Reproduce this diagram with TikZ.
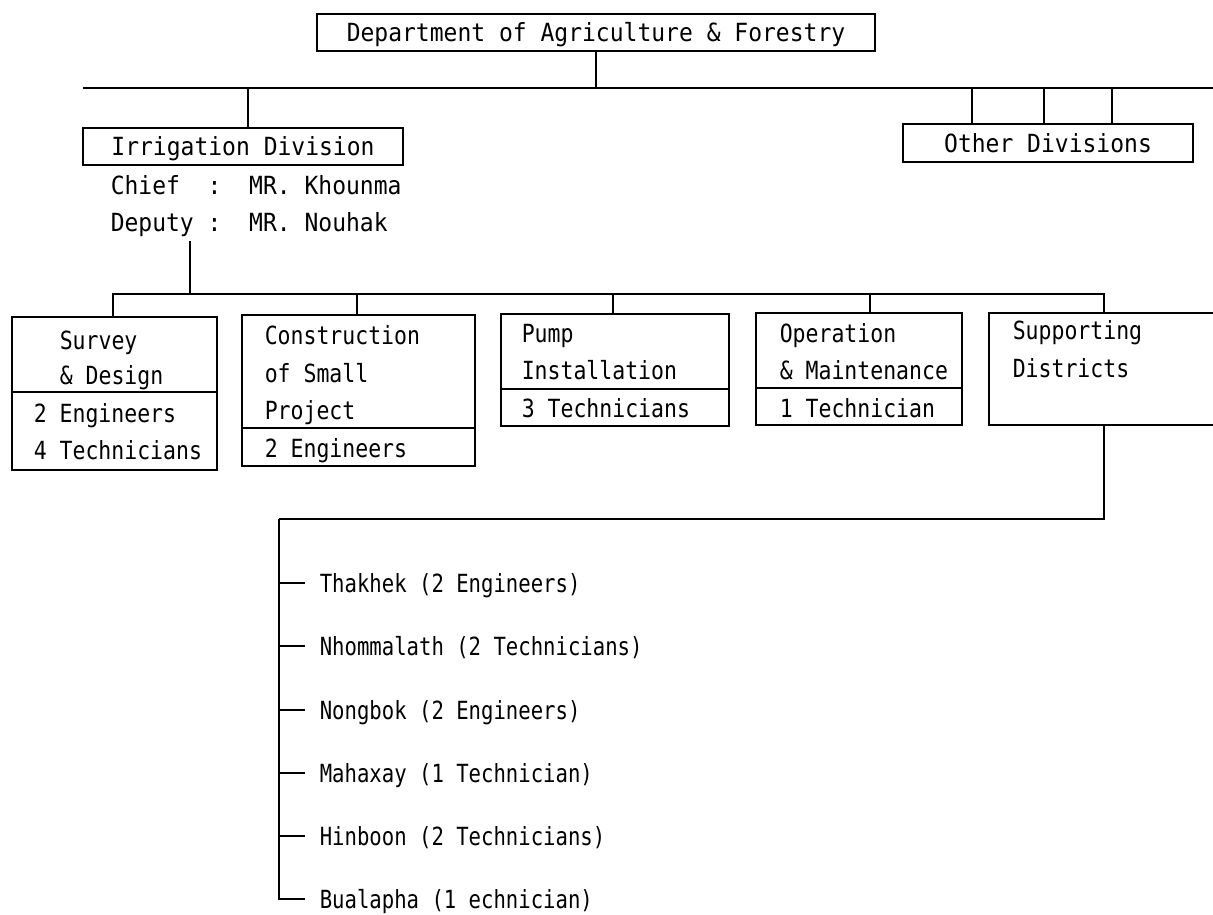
\documentclass[tikz,border=0pt]{standalone}
\usepackage{fontspec}
\newfontfamily\topfont[FakeStretch=0.92]{DejaVu Sans Mono}
\newfontfamily\rowfont[FakeStretch=0.86]{DejaVu Sans Mono}
\newfontfamily\distfont[FakeStretch=0.825]{DejaVu Sans Mono}
\frenchspacing
\begin{document}
\begin{tikzpicture}[x=1pt,y=-1pt,line width=1.5pt,
  box/.style={draw,rectangle,inner sep=0pt,text height=18pt,text depth=0pt,
    font=\fontsize{25}{29}\topfont},
  plainbox/.style={draw,rectangle,inner sep=0pt},
  toptext/.style={inner sep=0pt,anchor=west,text height=18pt,text depth=0pt,
    font=\fontsize{25}{29}\topfont},
  rowtext/.style={inner sep=0pt,anchor=west,text height=18pt,text depth=0pt,
    font=\fontsize{25}{29}\rowfont},
  disttext/.style={inner sep=0pt,anchor=west,text height=18pt,text depth=0pt,
    font=\fontsize{25}{29}\distfont}]
\useasboundingbox (0,0) rectangle (1213,914);
\clip (0,0) rectangle (1213,914);

% top level
\node[box,minimum width=558pt,minimum height=37pt] (dept) at (596,32.5)
  {Department of Agriculture \& Forestry};
\node[box,minimum width=320pt,minimum height=37pt] (irr) at (243,146.5)
  {Irrigation Division};
\node[box,minimum width=290pt,minimum height=38pt] (other) at (1048,143)
  {Other Divisions};
\node[toptext] (chief) at (110,185) {Chief\ \ :\ \ MR. Khounma};
\node[toptext] (deputy) at (110,222) {Deputy\ :\ \ MR. Nouhak};

\coordinate (topL) at (83,88);
\coordinate (topR) at (1220,88);
\coordinate (dj) at (596,88);
\draw (topL) -- (topR);
\draw (dept.south) -- (dj);
\draw (irr.north -| 248,0) -- (248,88);
\foreach \xx in {972,1044,1112} \draw (\xx,88) -- (other.north -| \xx,0);

% second level boxes
\node[plainbox,minimum width=205pt,minimum height=153pt] (survey) at (114.5,393.5) {};
\node[plainbox,minimum width=233pt,minimum height=151pt] (constr) at (358.5,390.5) {};
\node[plainbox,minimum width=228pt,minimum height=112pt] (pump) at (615,370) {};
\node[plainbox,minimum width=206pt,minimum height=112pt] (oper) at (859,369) {};
\node[plainbox,minimum width=236pt,minimum height=112pt] (supp) at (1107,369) {};

\draw (survey.west |- 0,392) -- (survey.east |- 0,392);
\draw (constr.west |- 0,428) -- (constr.east |- 0,428);
\draw (pump.west |- 0,389) -- (pump.east |- 0,389);
\draw (oper.west |- 0,388) -- (oper.east |- 0,388);

\node[rowtext] (s1) at (59,340) {Survey};
\node[rowtext] (s2) at (59,375) {\& Design};
\node[rowtext] (s3) at (33,413) {2 Engineers};
\node[rowtext] (s4) at (33,450) {4 Technicians};

\node[rowtext] (c1) at (264,335) {Construction};
\node[rowtext] (c2) at (264,373) {of Small};
\node[rowtext] (c3) at (264,410) {Project};
\node[rowtext] (c4) at (264,448) {2 Engineers};

\node[rowtext] (p1) at (521,333) {Pump};
\node[rowtext] (p2) at (521,370) {Installation};
\node[rowtext] (p3) at (521,408) {3 Technicians};

\node[rowtext] (o1) at (779,333) {Operation};
\node[rowtext] (o2) at (779,370) {\& Maintenance};
\node[rowtext] (o3) at (779,408) {1 Technician};

\node[rowtext] (u1) at (1012,330) {Supporting};
\node[rowtext] (u2) at (1012,368) {Districts};

% bus to second level
\coordinate (dep0) at (190,241);
\coordinate (bus) at (190,294);
\draw (dep0) -- (bus);
\draw (survey.north -| 113,0) -- (113,294) -- (1104,294) -- (supp.north -| 1104,0);
\draw (constr.north -| 357,0) -- (357,294);
\draw (pump.north -| 613,0) -- (613,294);
\draw (oper.north -| 870,0) -- (870,294);

% districts
\coordinate (sd) at (1104,519);
\coordinate (sl) at (279,519);
\draw (supp.south -| 1104,0) -- (sd) -- (sl);

\node[disttext] (d1) at (319,583) {Thakhek (2 Engineers)};
\node[disttext] (d2) at (319,646) {Nhommalath (2 Technicians)};
\node[disttext] (d3) at (319,710) {Nongbok (2 Engineers)};
\node[disttext] (d4) at (319,773) {Mahaxay (1 Technician)};
\node[disttext] (d5) at (319,836) {Hinboon (2 Technicians)};
\node[disttext] (d6) at (319,899) {Bualapha (1 echnician)};

\draw (sl) -- (279,899) -- ([xshift=-14pt]d6.west);
\foreach \n in {d1,d2,d3,d4,d5}
  \draw (279,0 |- \n.west) -- ([xshift=-14pt]\n.west);
\end{tikzpicture}
\end{document}
